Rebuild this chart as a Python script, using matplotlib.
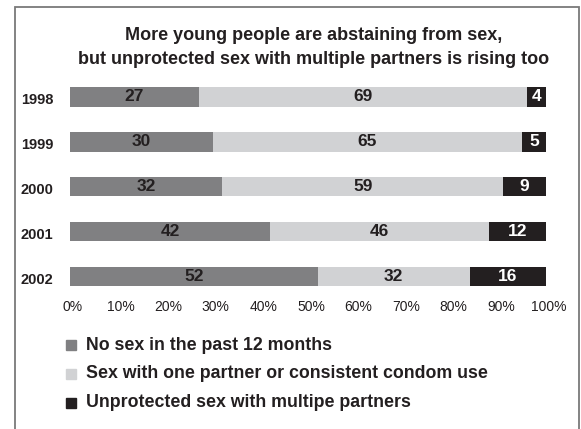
import numpy as np
import matplotlib
matplotlib.use("Agg")
import matplotlib.pyplot as plt
import matplotlib.patches as mpatches
import matplotlib.transforms as mtransforms

plt.rcParams['font.family'] = ['Liberation Sans', 'DejaVu Sans']

years = ['1998', '1999', '2000', '2001', '2002']
no_sex = [27, 30, 32, 42, 52]
one_partner = [69, 65, 59, 46, 32]
unprotected = [4, 5, 9, 12, 16]
series_names = ['No sex in the past 12 months',
                'Sex with one partner or consistent condom use',
                'Unprotected sex with multipe partners']
colors = ['#808082', '#d1d2d4', '#231f20']
label_colors = ['#231f20', '#231f20', 'white']
tick_vals = [0, 10, 20, 30, 40, 50, 60, 70, 80, 90, 100]
txt = '#231f20'

fig = plt.figure(figsize=(5.81, 4.29), dpi=100)
ax = fig.add_axes([0.1205, 0.303, 0.8192, 0.5233])

ypos = np.arange(len(years))
left = np.zeros(len(years))
for vals, col, lc in zip([no_sex, one_partner, unprotected], colors, label_colors):
    vals = np.array(vals, dtype=float)
    ax.barh(ypos, vals, left=left, height=0.43, color=col, edgecolor='none')
    for y, l, v in zip(ypos, left, vals):
        ax.text(l + v / 2, y, '%d' % v, ha='center', va='center',
                fontsize=12.5, fontweight='bold', color=lc)
    left = left + vals

ax.set_xlim(0, 100)
ax.set_ylim(len(years) - 0.5, -0.5)
ax.set_yticks(ypos)
ax.set_yticklabels(years, fontsize=10.5, fontweight='bold', color=txt)
ax.set_xticks(tick_vals)
ax.set_xticklabels(['%d%%' % t for t in tick_vals], fontsize=10, color=txt)
ax.tick_params(axis='both', length=0)
ax.tick_params(axis='x', pad=1)
ax.tick_params(axis='y', pad=12)
# labels sit a little right of the ticks in the original
off = mtransforms.ScaledTranslation(3 / 100, 0, fig.dpi_scale_trans)
for lab in ax.get_xticklabels():
    lab.set_transform(lab.get_transform() + off)
off_y = mtransforms.ScaledTranslation(0, -2 / 100, fig.dpi_scale_trans)
for lab in ax.get_yticklabels():
    lab.set_transform(lab.get_transform() + off_y)
for s in ax.spines.values():
    s.set_visible(False)

fig.text(0.539, 0.889, 'More young people are abstaining from sex,\nbut unprotected sex with multiple partners is rising too',
         ha='center', va='center', fontsize=13, fontweight='bold',
         color=txt, linespacing=1.5)

# legend
leg_y = [345, 373.5, 402.5]
for name, col, yy in zip(series_names, colors, leg_y):
    fy = 1 - yy / 429
    fig.patches.append(mpatches.Rectangle((65.7 / 581, fy - 5 / 429), 10 / 581, 10 / 429,
                                          transform=fig.transFigure, color=col))
    fig.text(86 / 581, fy, name, ha='left', va='center', fontsize=12.8,
             fontweight='bold', color=txt)

# frame (open at the bottom)
fig.patches.append(mpatches.Rectangle((15 / 581, -0.05), 564 / 581, 1.05 - 7 / 429,
                                      transform=fig.transFigure, fill=False,
                                      edgecolor='#7a7a7a', linewidth=1.3))

fig.savefig('out.png', dpi=100)
